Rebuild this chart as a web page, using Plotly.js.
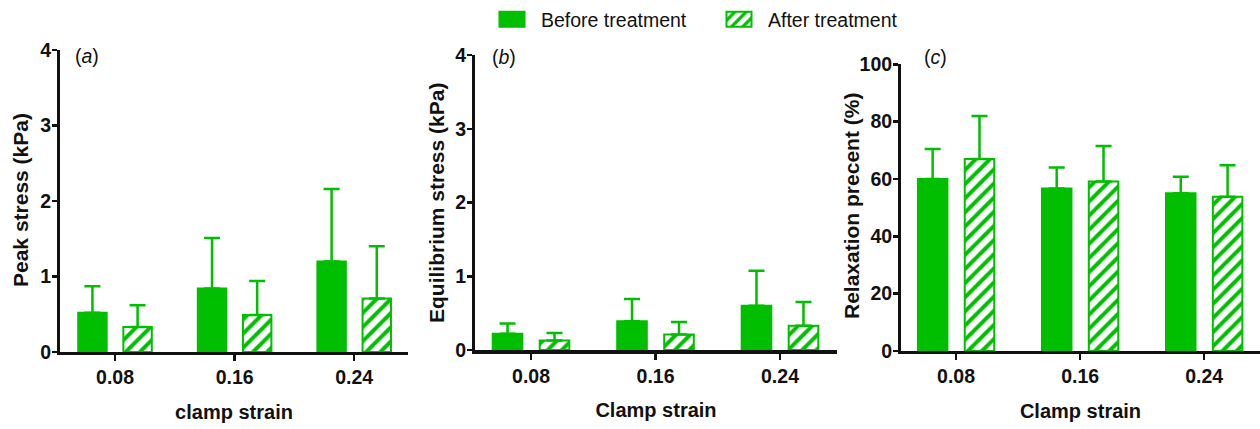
<!DOCTYPE html>
<html>
<head>
<meta charset="utf-8">
<script src="https://cdn.plot.ly/plotly-3.0.1.min.js"></script>
<style>
  html, body { margin: 0; padding: 0; background: #fff; }
  #chart { width: 1260px; height: 429px; }
</style>
</head>
<body>
<div id="chart"></div>
<script>
// ---- data ----
const categories = ['0.08', '0.16', '0.24'];
const seriesNames = ['Before treatment', 'After treatment'];

// (a) Peak stress (kPa)
const peakBefore    = [0.52, 0.84, 1.20];
const peakBeforeSD  = [0.35, 0.67, 0.96];
const peakAfter     = [0.33, 0.49, 0.71];
const peakAfterSD   = [0.29, 0.45, 0.69];

// (b) Equilibrium stress (kPa)
const eqBefore      = [0.22, 0.39, 0.60];
const eqBeforeSD    = [0.14, 0.30, 0.475];
const eqAfter       = [0.13, 0.21, 0.33];
const eqAfterSD     = [0.10, 0.17, 0.32];

// (c) Relaxation percent (%)
const relBefore     = [60.0, 56.7, 55.0];
const relBeforeSD   = [10.5, 7.3, 5.8];
const relAfter      = [67.0, 59.1, 53.8];
const relAfterSD    = [15.0, 12.4, 11.0];

const panelLabels = ['a', 'b', 'c'];
const yTitles = ['Peak stress (kPa)', 'Equilibrium stress (kPa)', 'Relaxation precent (%)'];
const xTitles = ['clamp strain', 'Clamp strain', 'Clamp strain'];

// ---- styling ----
const GREEN = '#00bf00';
const INK = '#111111';
const SANS = '"Liberation Sans", Arial, sans-serif';

function barTrace(y, sd, hatched, xa, ya, showlegend) {
  return {
    type: 'bar',
    x: categories,
    y: y,
    name: hatched ? seriesNames[1] : seriesNames[0],
    xaxis: xa, yaxis: ya,
    showlegend: showlegend,
    marker: hatched ? {
      color: '#ffffff',
      line: {color: GREEN, width: 2},
      pattern: {shape: '/', fgcolor: GREEN, bgcolor: '#ffffff', size: 10, solidity: 0.4, fillmode: 'replace'}
    } : {
      color: GREEN,
      line: {color: GREEN, width: 2}
    },
    error_y: {
      type: 'data', symmetric: false, array: sd, arrayminus: sd.map(() => 0),
      color: GREEN, thickness: 2.5, width: 8
    },
    hoverinfo: 'x+y'
  };
}

const data = [
  barTrace(peakBefore, peakBeforeSD, false, 'x', 'y', true),
  barTrace(peakAfter, peakAfterSD, true, 'x', 'y', true),
  barTrace(eqBefore, eqBeforeSD, false, 'x2', 'y2', false),
  barTrace(eqAfter, eqAfterSD, true, 'x2', 'y2', false),
  barTrace(relBefore, relBeforeSD, false, 'x3', 'y3', false),
  barTrace(relAfter, relAfterSD, true, 'x3', 'y3', false)
];

function xAxis(domain, range, title, lw) {
  return {
    domain: domain, range: range, type: 'category',
    showline: true, linecolor: INK, linewidth: lw,
    ticks: 'outside', ticklen: 6, tickwidth: 2.5, tickcolor: INK,
    tickfont: {family: SANS, size: 19.5, color: INK, weight: 'bold'},
    showgrid: false, zeroline: false, fixedrange: true,
    title: {text: '<b>' + title + '</b>', font: {family: SANS, size: 20, color: INK}, standoff: 18}
  };
}
function yAxis(domain, range, dtick, anchor) {
  return {
    domain: domain, range: range, dtick: dtick, anchor: anchor,
    showline: true, linecolor: INK, linewidth: 3,
    ticks: 'outside', ticklen: 5, tickwidth: 2.5, tickcolor: INK,
    tickfont: {family: SANS, size: 19.5, color: INK, weight: 'bold'},
    ticklabelstandoff: -3,
    showgrid: false, zeroline: false, fixedrange: true
  };
}

const H = 429, W = 1260;
const panelLabelAnns = panelLabels.map((p, i) => ({
  xref: 'paper', yref: 'paper',
  x: [73, 490, 922][i] / W, y: 1 - [56, 57, 57][i] / H,
  xanchor: 'left', yanchor: 'middle', showarrow: false,
  text: '(<i>' + p + '</i>)',
  font: {family: SANS, size: 19.5, color: INK}
}));
const yTitleAnns = yTitles.map((t, i) => ({
  xref: 'paper', yref: 'paper',
  x: [20, 436, 852][i] / W, y: 1 - [200, 203, 206][i] / H,
  xanchor: 'center', yanchor: 'middle', showarrow: false, textangle: -90,
  text: '<b>' + t + '</b>',
  font: {family: SANS, size: 21, color: INK}
}));

const layout = {
  width: W, height: H,
  margin: {l: 0, r: 0, t: 0, b: 0},
  paper_bgcolor: '#ffffff', plot_bgcolor: 'rgba(0,0,0,0)',
  barmode: 'group', bargap: 0.245, bargroupgap: 0.37,
  xaxis:  Object.assign(xAxis([60/W, 408/W], [-0.46, 2.45], xTitles[0], 3), {anchor: 'y'}),
  xaxis2: Object.assign(xAxis([475/W, 837/W], [-0.45, 2.458], xTitles[1], 4), {anchor: 'y2'}),
  xaxis3: Object.assign(xAxis([901/W, 1260/W], [-0.444, 2.45], xTitles[2], 3), {anchor: 'y3'}),
  yaxis:  yAxis([1 - 352/H, 1 - 50/H], [0, 4], 1, 'x'),
  yaxis2: yAxis([1 - 350/H, 1 - 55/H], [0, 4], 1, 'x2'),
  yaxis3: yAxis([1 - 351/H, 1 - 64.3/H], [0, 100], 20, 'x3'),
  showlegend: true,
  legend: {
    orientation: 'h', x: 483/W, xanchor: 'left', y: 1, yanchor: 'top',
    font: {family: SANS, size: 19.5, color: INK},
    itemwidth: 48,
    entrywidth: 164, entrywidthmode: 'pixels', traceorder: 'normal',
    bgcolor: 'rgba(0,0,0,0)', borderwidth: 0
  },
  annotations: panelLabelAnns.concat(yTitleAnns)
};

Plotly.newPlot('chart', data, layout, {displayModeBar: false, staticPlot: true}).then(function (gd) {
  // widen the legend swatches to the reference's 25x15 blocks
  gd.querySelectorAll('.legend .legendpoints path').forEach(function (p) {
    p.setAttribute('d', 'M12.5,7.5H-12.5V-7.5H12.5Z');
  });
});
</script>
</body>
</html>
